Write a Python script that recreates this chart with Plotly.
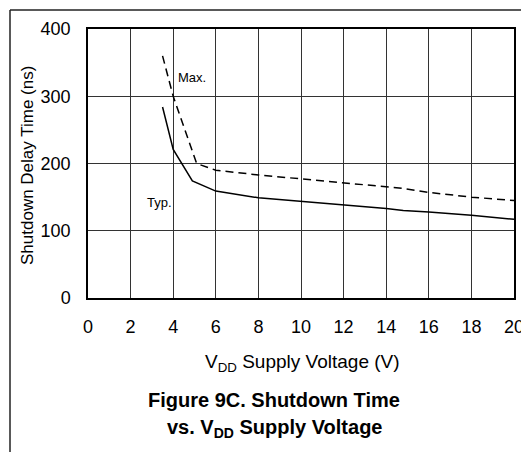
import plotly.graph_objects as go

# supply voltage (V) and delay times (ns)
typ_v = [3.5, 4.0, 4.9, 6.0, 8.0, 10.0, 12.0, 14.0, 14.8, 16.0, 18.0, 20.0]
typ_ns = [284, 221, 174, 159, 149, 144, 139, 133, 130, 128, 123, 117]

max_v = [3.5, 4.0, 5.1, 6.0, 8.0, 10.0, 12.5, 14.8, 16.0, 18.0, 20.0]
max_ns = [360, 300, 200, 190, 183, 177, 169, 163, 157, 150, 145]

x_ticks = [0, 2, 4, 6, 8, 10, 12, 14, 16, 18, 20]
y_ticks = [0, 100, 200, 300, 400]

W, H = 521, 452
L, R, T, B = 88, 7, 29, 154
pw, ph = W - L - R, H - T - B


def px_x(p):
    return (p - L) / pw


def px_y(p):
    return (H - B - p) / ph


FONT = "Liberation Sans, Arial, sans-serif"

fig = go.Figure()
fig.add_trace(go.Scatter(x=typ_v, y=typ_ns, mode="lines",
                         line=dict(color="black", width=1.5)))
fig.add_trace(go.Scatter(x=max_v, y=max_ns, mode="lines",
                         line=dict(color="black", width=1.5, dash="8px,5px")))

fig.update_layout(
    width=W, height=H,
    margin=dict(l=L, r=R, t=T, b=B),
    paper_bgcolor="white", plot_bgcolor="white",
    showlegend=False,
    font=dict(family=FONT, color="black"),
    xaxis=dict(range=[0, 20], tickvals=x_ticks, showgrid=True,
               gridcolor="#333", gridwidth=1, zeroline=False,
               showline=True, linecolor="black", linewidth=1.5, mirror=True,
               ticks="", tickfont=dict(size=18), ticklabelstandoff=12,
               ticklabeloverflow="allow", automargin=False),
    yaxis=dict(range=[0, 400], tickvals=y_ticks, showgrid=True,
               gridcolor="#333", gridwidth=1, zeroline=False,
               showline=True, linecolor="black", linewidth=1.5, mirror=True,
               ticks="", tickfont=dict(size=18), ticklabelstandoff=12,
               ticklabeloverflow="allow", automargin=False),
)

texts = [
    # (text, x px, y px, size, anchor)
    ("Max.", 176, 77, 13, "left"),
    ("Typ.", 145, 202, 13, "left"),
    ("V<sub>DD</sub> Supply Voltage (V)", 302, 363, 19, "center"),
    ("<b>Figure 9C. Shutdown Time</b>", 274, 400, 20, "center"),
    ("<b>vs. V<sub>DD</sub> Supply Voltage</b>", 274, 428, 20, "center"),
]
for txt, x, y, size, anchor in texts:
    fig.add_annotation(x=px_x(x), y=px_y(y), xref="paper", yref="paper",
                       text=txt, showarrow=False, xanchor=anchor,
                       yanchor="middle", font=dict(size=size))

fig.add_annotation(x=px_x(27), y=px_y(166), xref="paper", yref="paper",
                   text="Shutdown Delay Time (ns)", showarrow=False,
                   xanchor="center", yanchor="middle",
                   textangle=-90, font=dict(size=17))

# outer frame lines (top and left) of the figure box
fig.add_shape(type="line", xref="paper", yref="paper",
              x0=px_x(10), x1=px_x(W), y0=px_y(10), y1=px_y(10),
              line=dict(color="#222", width=1.5))
fig.add_shape(type="line", xref="paper", yref="paper",
              x0=px_x(10), x1=px_x(10), y0=px_y(10), y1=px_y(H),
              line=dict(color="#222", width=1.5))

fig.write_html("out.html", config={"displayModeBar": False},
               post_script="document.body.style.margin='0';")
